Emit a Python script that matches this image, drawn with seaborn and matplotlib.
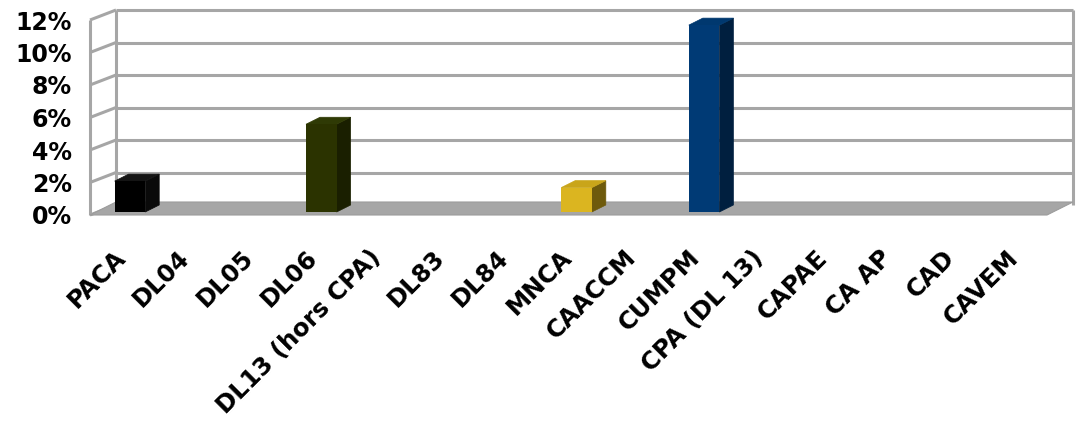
import numpy as np
import pandas as pd
import matplotlib
matplotlib.use("Agg")
import matplotlib.pyplot as plt
from matplotlib.patches import Polygon
from matplotlib.transforms import offset_copy
import seaborn as sns

# data (percent)
categories = ["PACA", "DL04", "DL05", "DL06", "DL13 (hors CPA)", "DL83", "DL84",
              "MNCA", "CAACCM", "CUMPM", "CPA (DL 13)", "CAPAE", "CA AP", "CAD", "CAVEM"]
values = [1.9, 0, 0, 5.4, 0, 0, 0, 1.5, 0, 11.5, 0, 0, 0, 0, 0]
front_colors = ["#000000", "#000000", "#000000", "#2b3300", "#000000", "#000000", "#000000",
                "#dbb520", "#000000", "#003a75", "#000000", "#000000", "#000000", "#000000", "#000000"]
side_colors = ["#0a0a0a", "#000000", "#000000", "#1a1f00", "#000000", "#000000", "#000000",
               "#6e5a0c", "#000000", "#001f3f", "#000000", "#000000", "#000000", "#000000", "#000000"]
top_colors = ["#141414", "#000000", "#000000", "#2f3a05", "#000000", "#000000", "#000000",
              "#c9a51a", "#000000", "#00386f", "#000000", "#000000", "#000000", "#000000", "#000000"]
y_ticks = [0, 2, 4, 6, 8, 10, 12]

sns.set_style("white")
plt.rcParams["font.family"] = ["DejaVu Sans"]
plt.rcParams["text.color"] = "black"
plt.rcParams["xtick.color"] = "black"
plt.rcParams["ytick.color"] = "black"

W, H = 1079, 421
left_px, bottom_px, top_px, width_px = 90, 215, 20, 957
fig = plt.figure(figsize=(W / 100, H / 100), dpi=100)
ax = fig.add_axes([left_px / W, (H - bottom_px) / H, width_px / W, (bottom_px - top_px) / H])

df = pd.DataFrame({"cat": categories, "val": values})
sns.barplot(data=df, x="cat", y="val", hue="cat", palette=dict(zip(categories, front_colors)),
            width=0.48, legend=False, saturation=1, edgecolor="none", linewidth=0, ax=ax)

ax.set_xlim(-0.5, len(categories) - 0.5)
ax.set_ylim(0, 12)

# pixel -> data conversion for the fake depth
ppx = width_px / len(categories)
ppy = (bottom_px - top_px) / 12
wall_dx, wall_dy = 26 / ppx, 10 / ppy
bar_dx, bar_dy = 14 / ppx, 7 / ppy
bar_tr = offset_copy(ax.transData, fig=fig, x=8, y=3, units="dots")

grid_col = "#a6a6a6"
x0, x1 = -0.5, len(categories) - 0.5
kw = dict(color=grid_col, lw=2.2, clip_on=False, zorder=0, solid_capstyle="butt")

# back and left walls
for v in y_ticks:
    ax.plot([x0, x0 + wall_dx], [v, v + wall_dy], **kw)
    if v > 0:
        ax.plot([x0 + wall_dx, x1 + wall_dx], [v + wall_dy, v + wall_dy], **kw)
ax.plot([x0, x0], [0, 12], **kw)
ax.plot([x0 + wall_dx, x0 + wall_dx], [wall_dy, 12 + wall_dy], **kw)
ax.plot([x1 + wall_dx, x1 + wall_dx], [wall_dy, 12 + wall_dy], **kw)

# floor
floor_dy = 13 / ppy
floor = Polygon([(x0, 0), (x1, 0), (x1 + wall_dx, floor_dy), (x0 + wall_dx, floor_dy)],
                closed=True, facecolor=grid_col, edgecolor="#9c9c9c", lw=0.8,
                clip_on=False, zorder=1)
ax.add_patch(floor)

# bars: move into the depth, add side and top faces
bars = ax.patches[:len(categories)]
for patch, side, top in zip(bars, side_colors, top_colors):
    patch.set_transform(bar_tr)
    patch.set_zorder(4)
    patch.set_clip_on(False)
    h = patch.get_height()
    if h <= 0:
        continue
    x, w = patch.get_x(), patch.get_width()
    ax.add_patch(Polygon([(x + w, 0), (x + w + bar_dx, bar_dy), (x + w + bar_dx, h + bar_dy), (x + w, h)],
                         closed=True, facecolor=side, edgecolor=side, lw=0.5, clip_on=False,
                         zorder=3, transform=bar_tr))
    ax.add_patch(Polygon([(x, h), (x + w, h), (x + w + bar_dx, h + bar_dy), (x + bar_dx, h + bar_dy)],
                         closed=True, facecolor=top, edgecolor=top, lw=0.5, clip_on=False,
                         zorder=3, transform=bar_tr))

for s in ax.spines.values():
    s.set_visible(False)

ax.set_yticks(y_ticks)
ax.set_yticklabels([f"{v}%" for v in y_ticks], fontsize=17, fontweight="bold")
ax.tick_params(axis="y", length=0, pad=13)
ax.tick_params(axis="x", length=0, pad=28)
plt.setp(ax.get_xticklabels(), rotation=45, ha="right", va="center", rotation_mode="anchor",
         fontsize=17.5, fontweight="bold")
ax.set_xlabel("")
ax.set_ylabel("")
ax.set_facecolor("none")

fig.savefig("out.png", dpi=100)
